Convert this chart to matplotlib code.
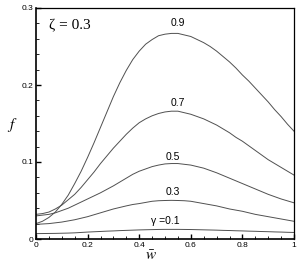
import matplotlib
matplotlib.use("Agg")
import matplotlib.pyplot as plt
from matplotlib.ticker import MultipleLocator, FixedLocator

w = [0.000, 0.025, 0.050, 0.075, 0.100, 0.125, 0.150, 0.175, 0.200, 0.225,
     0.250, 0.275, 0.300, 0.325, 0.350, 0.375, 0.400, 0.425, 0.450, 0.475,
     0.500, 0.525, 0.550, 0.575, 0.600, 0.625, 0.650, 0.675, 0.700, 0.725,
     0.750, 0.775, 0.800, 0.825, 0.850, 0.875, 0.900, 0.925, 0.950, 0.975, 1.000]

f_g09 = [0.020, 0.023, 0.028, 0.035, 0.045, 0.057, 0.072, 0.088, 0.106, 0.125,
         0.145, 0.165, 0.185, 0.203, 0.219, 0.233, 0.244, 0.253, 0.259, 0.264,
         0.266, 0.267, 0.267, 0.265, 0.263, 0.259, 0.255, 0.250, 0.244, 0.237,
         0.230, 0.222, 0.213, 0.205, 0.196, 0.187, 0.178, 0.168, 0.159, 0.149, 0.140]
f_g07 = [0.032, 0.033, 0.035, 0.039, 0.044, 0.051, 0.058, 0.067, 0.077, 0.087,
         0.098, 0.108, 0.118, 0.127, 0.136, 0.144, 0.151, 0.156, 0.160, 0.163,
         0.165, 0.166, 0.166, 0.164, 0.162, 0.159, 0.156, 0.152, 0.148, 0.143,
         0.138, 0.132, 0.127, 0.121, 0.115, 0.109, 0.103, 0.098, 0.093, 0.088, 0.083]
f_g05 = [0.030, 0.031, 0.032, 0.034, 0.037, 0.040, 0.044, 0.048, 0.052, 0.056,
         0.060, 0.0645, 0.069, 0.074, 0.079, 0.084, 0.088, 0.091, 0.094, 0.096,
         0.0975, 0.098, 0.098, 0.097, 0.096, 0.094, 0.092, 0.089, 0.086, 0.0825,
         0.079, 0.0755, 0.072, 0.0685, 0.065, 0.0615, 0.058, 0.055, 0.052, 0.0495, 0.047]
f_g03 = [0.019, 0.0195, 0.020, 0.021, 0.022, 0.0235, 0.025, 0.027, 0.029, 0.0315,
         0.034, 0.0365, 0.039, 0.041, 0.043, 0.0448, 0.046, 0.0475, 0.049, 0.0497,
         0.050, 0.0502, 0.050, 0.0497, 0.049, 0.0475, 0.046, 0.0445, 0.043, 0.041,
         0.039, 0.0375, 0.036, 0.034, 0.032, 0.0305, 0.029, 0.0275, 0.026, 0.0245, 0.023]
f_g01 = [0.0070, 0.0071, 0.0072, 0.0073, 0.0075, 0.0077, 0.0080, 0.0085, 0.0090, 0.0094,
         0.0098, 0.0102, 0.0105, 0.0109, 0.0112, 0.0115, 0.0118, 0.0120, 0.0122, 0.0124,
         0.0125, 0.0125, 0.0125, 0.0124, 0.0123, 0.0121, 0.0119, 0.0117, 0.0115, 0.0112,
         0.0110, 0.0107, 0.0105, 0.0102, 0.0100, 0.0097, 0.0095, 0.0092, 0.0090, 0.0087, 0.0085]

labels = ["0.9", "0.7", "0.5", "0.3", "\u03b3 =0.1"]
label_pos = [(0.55, 0.281), (0.55, 0.176), (0.53, 0.107), (0.53, 0.061), (0.5, 0.024)]
x_ticks = [0, 0.2, 0.4, 0.6, 0.8, 1]
x_ticklabels = ["0", "0.2", "0.4", "0.6", "0.8", "1"]
y_ticks = [0, 0.1, 0.2, 0.3]
y_ticklabels = ["0", "0.1", "0.2", "0.3"]

fig = plt.figure(figsize=(3.05, 2.68), dpi=100)
ax = fig.add_axes([36/305, 1 - 239/268, 258/305, 231/268])

col = "#505050"
for f in [f_g09, f_g07, f_g05, f_g03, f_g01]:
    ax.plot(w, f, color=col, lw=0.7)

for lab, (x, y) in zip(labels, label_pos):
    ax.text(x, y, lab, ha="center", va="center", fontsize=7.5,
            family="Liberation Sans", color="black")

ax.text(0.05, 0.277, "\u03b6 = 0.3", fontsize=11, family="Liberation Serif", va="center")

ax.set_xlim(0, 1)
ax.set_ylim(0, 0.3)
ax.xaxis.set_major_locator(FixedLocator(x_ticks))
ax.set_xticklabels(x_ticklabels)
ax.yaxis.set_major_locator(FixedLocator(y_ticks))
ax.set_yticklabels(y_ticklabels)
ax.xaxis.set_minor_locator(MultipleLocator(0.05))
ax.yaxis.set_minor_locator(MultipleLocator(0.02))
ax.tick_params(which="both", direction="in", top=False, right=False, labelsize=6, pad=2)
ax.tick_params(which="major", length=3.5, width=1.0)
ax.tick_params(which="minor", length=2, width=0.6)
for t in ax.get_xticklabels() + ax.get_yticklabels():
    t.set_family("Liberation Sans")

for s in ["left", "bottom"]:
    ax.spines[s].set_linewidth(1.2)
for s in ["top", "right"]:
    ax.spines[s].set_linewidth(0.9)

fig.text(12/305, 1 - 125/268, "$f$", fontsize=11, ha="center", va="center",
         math_fontfamily="stix")
fig.text(151/305, 1 - 255/268, r"$\bar{w}$", fontsize=11, ha="center", va="center",
         math_fontfamily="stix")

fig.savefig("out.png", dpi=100)
